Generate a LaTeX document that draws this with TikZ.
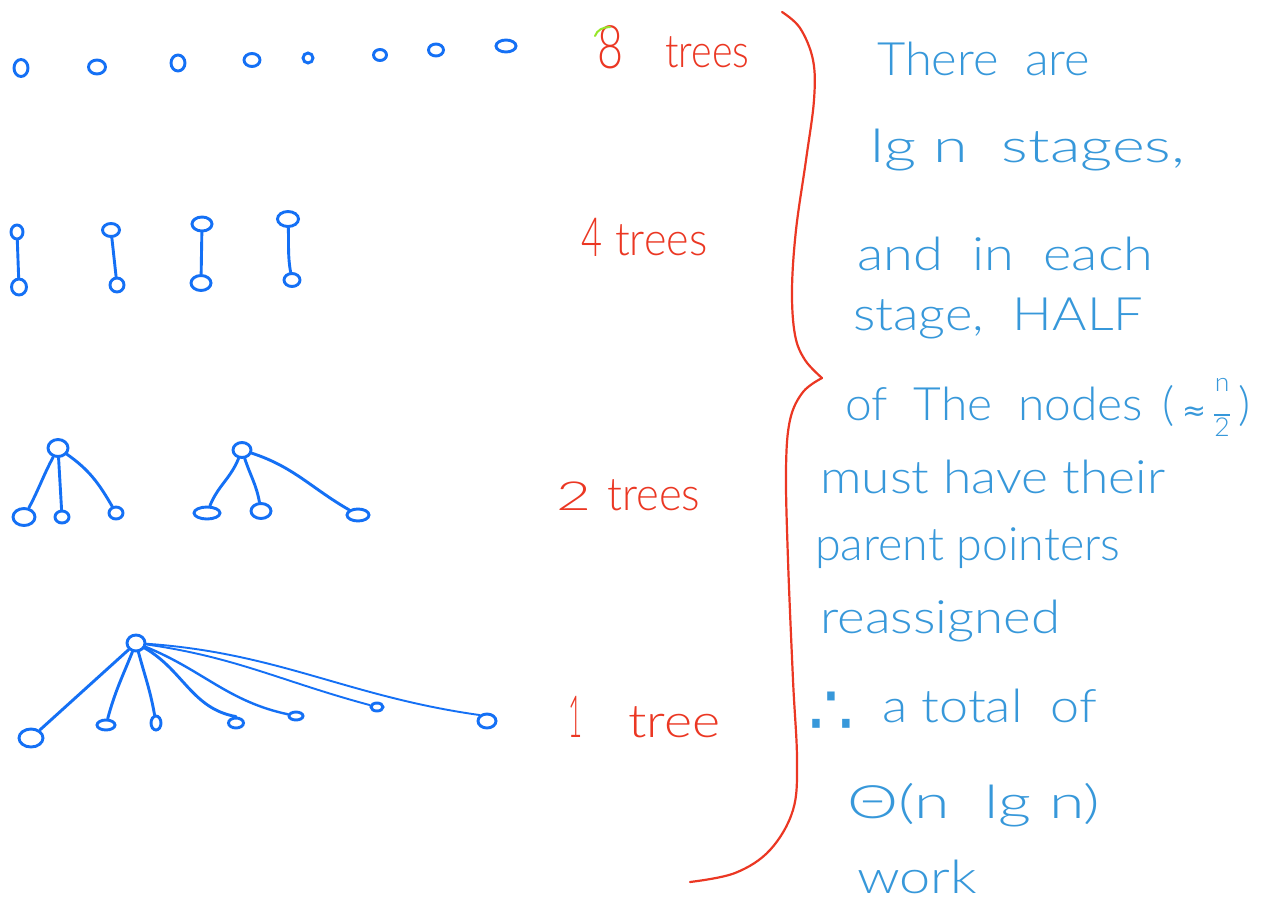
\documentclass[tikz,border=0pt]{standalone}
\usepackage{fontspec}
\IfFontExistsTF{Lato Light}{\setmainfont{Lato Light}}{\setmainfont{Lato}}
\newfontfamily\symfont{DejaVu Sans}
\usetikzlibrary{shapes.geometric}
\definecolor{treeblue}{RGB}{20,112,245}
\definecolor{textblue}{RGB}{55,152,218}
\definecolor{labred}{RGB}{235,55,35}
\definecolor{tickgreen}{RGB}{150,230,40}
\newcommand{\hw}[2]{\resizebox{#1pt}{\height}{#2}}
\begin{document}
\begin{tikzpicture}[x=1pt,y=-1pt,
  nd/.style={draw=treeblue, line width=2.9pt, ellipse, inner sep=0pt},
  ed/.style={draw=treeblue, line width=2.9pt, line cap=round},
  thinedge/.style={draw=treeblue, line width=1.9pt, line cap=round},
  txt/.style={text=textblue, anchor=base west, inner sep=0pt, font=\fontsize{46}{50}\selectfont},
  lab/.style={text=labred, anchor=base west, inner sep=0pt, font=\fontsize{46}{50}\selectfont},
  brace/.style={draw=labred, line width=2.2pt, line cap=round}]
\fill[white] (0,0) rectangle (1261,902);
\useasboundingbox (0,0) rectangle (1261,902);

% ---- row 1: 8 trees
\node[nd, minimum width=14pt, minimum height=17pt] (s1) at (21,68) {};
\node[nd, minimum width=17pt, minimum height=14pt] (s2) at (97,67) {};
\node[nd, minimum width=14pt, minimum height=16pt] (s3) at (178,63) {};
\node[nd, minimum width=16pt, minimum height=13pt] (s4) at (252,60) {};
\node[nd, minimum width=10pt, minimum height=10pt] (s5) at (308,58) {};
\node[nd, minimum width=13pt, minimum height=11pt] (s6) at (380,55) {};
\node[nd, minimum width=15pt, minimum height=12pt] (s7) at (436,50) {};
\node[nd, minimum width=20pt, minimum height=12pt] (s8) at (506,46) {};

% ---- row 2: 4 trees
\node[nd, minimum width=12pt, minimum height=14pt] (p1t) at (17,232) {};
\node[nd, minimum width=15pt, minimum height=16pt] (p1b) at (19,287) {};
\node[nd, minimum width=17pt, minimum height=13pt] (p2t) at (111,230) {};
\node[nd, minimum width=14pt, minimum height=14pt] (p2b) at (117,285) {};
\node[nd, minimum width=20pt, minimum height=14pt] (p3t) at (202,224) {};
\node[nd, minimum width=20pt, minimum height=15pt] (p3b) at (201,283) {};
\node[nd, minimum width=21pt, minimum height=15pt] (p4t) at (288,219) {};
\node[nd, minimum width=16pt, minimum height=13pt] (p4b) at (292,280) {};
\draw[ed] (p1t) -- (p1b);
\draw[ed] (p2t) -- (p2b);
\draw[ed] (p3t) -- (p3b);
\draw[ed] (p4t) to[out=-88,in=100] (p4b);

% ---- row 3: 2 trees
\node[nd, minimum width=20pt, minimum height=17pt] (a0) at (58,448) {};
\node[nd, minimum width=22pt, minimum height=17pt] (a1) at (24,517) {};
\node[nd, minimum width=14pt, minimum height=12pt] (a2) at (62,517) {};
\node[nd, minimum width=14pt, minimum height=12pt] (a3) at (116,513) {};
\draw[ed] (a0) to[out=-118,in=62] (a1);
\draw[ed] (a0) -- (a2);
\draw[ed] (a0) to[out=-35,in=120] (a3);
\node[nd, minimum width=18pt, minimum height=15pt] (b0) at (242,450) {};
\node[nd, minimum width=26pt, minimum height=12pt] (b1) at (207,513) {};
\node[nd, minimum width=20pt, minimum height=15pt] (b2) at (261,511) {};
\node[nd, minimum width=22pt, minimum height=12pt] (b3) at (358,515) {};
\draw[ed] (b0) to[out=-112,in=68] (b1);
\draw[ed] (b0) to[out=-72,in=100] (b2);
\draw[ed] (b0) to[out=-18,in=150] (b3);

% ---- row 4: 1 tree
\node[nd, minimum width=18pt, minimum height=16pt] (r0) at (136,643) {};
\node[nd, minimum width=24pt, minimum height=18pt] (r1) at (31,738) {};
\node[nd, minimum width=18pt, minimum height=10pt] (r2) at (106,725) {};
\node[nd, minimum width=10pt, minimum height=14pt] (r3) at (156,723) {};
\node[nd, minimum width=15pt, minimum height=10pt] (r4) at (236,723) {};
\node[nd, minimum width=14pt, minimum height=8pt] (r5) at (296,716) {};
\node[nd, minimum width=12pt, minimum height=8pt] (r6) at (377,707) {};
\node[nd, minimum width=18pt, minimum height=14pt] (r7) at (487,721) {};
\draw[ed] (r0) -- (r1);
\draw[ed] (r0) to[out=-112,in=75] (r2);
\draw[ed] (r0) to[out=-75,in=100] (r3);
\draw[ed] (r0) to[out=-30,in=170] (r4.north);
\draw[ed, line width=2.4pt] (r0) to[out=-22,in=168] (r5);
\draw[thinedge] (r0) to[out=-8,in=165] (r6);
\draw[thinedge] (r0) to[out=-4,in=172] (r7.north west);

% ---- red labels
\node[lab, font=\fontsize{60}{60}\selectfont] (n8) at (597,68) {\hw{26}{8}};
\node[lab] (w8) at (665,67) {\hw{84}{trees}};
\draw[tickgreen, line width=2pt, line cap=round] (595,36) .. controls (597,30) and (603,27) .. (610,27);
\node[lab, font=\fontsize{54}{54}\selectfont] (n4) at (581,256) {\hw{21}{4}};
\node[lab] (w4) at (615,255) {\hw{92}{trees}};
\node[lab, font=\fontsize{40}{40}\selectfont] (n2) at (556,510) {\hw{35}{2}};
\node[lab] (w2) at (607,510) {\hw{93}{trees}};
\node[lab, font=\fontsize{58}{58}\selectfont] (n1) at (568,737) {\hw{14}{1}};
\node[lab] (w1) at (628,737) {\hw{92}{tree}};

% ---- brace
\draw[brace] plot[smooth, tension=0.6] coordinates {(782,12) (800,28) (813,60) (814,100) (806,160) (796,230) (792,290) (795,335) (805,360) (822,378)};
\draw[brace] plot[smooth, tension=0.6] coordinates {(822,378) (803,392) (790,420) (786,470) (788,560) (793,680) (797,760) (793,810) (770,850) (735,873) (690,882)};

% ---- explanation text
\node[txt] (t1) at (877,75) {\hw{213}{There\ \ are}};
\node[txt] (t2) at (870,162) {\hw{315}{lg n\ \ stages,}};
\node[txt] (t3) at (857,270) {\hw{296}{and\ \ in\ \ each}};
\node[txt] (t4) at (853,330) {\hw{290}{stage,\ \ HALF}};
\node[txt] (t5) at (845,420) {\hw{298}{of\ \ The\ \ nodes}};
\node[txt] (t5b) at (1162,420) {\hw{88}{(\,{\symfont\fontsize{28}{28}\selectfont ≈}\,\raisebox{5pt}{\fontsize{26}{26}\selectfont\begin{tabular}{@{}c@{}}n\\[-2pt]\rule{16pt}{1.6pt}\\[-6pt]2\end{tabular}}\,)}};
\node[txt] (t6) at (820,493) {\hw{345}{must have their}};
\node[txt] (t7) at (815,560) {\hw{305}{parent pointers}};
\node[txt] (t8) at (820,633) {\hw{240}{reassigned}};
\node[txt, font=\symfont\fontsize{72}{72}\selectfont] (t9a) at (808,735) {∴};
\node[txt] (t9) at (882,722) {\hw{215}{a\ total\ \ of}};
\node[txt] (t10) at (847,818) {\hw{253}{Θ(n\ \ lg\ n)}};
\node[txt] (t11) at (857,893) {\hw{120}{work}};
\end{tikzpicture}
\end{document}
